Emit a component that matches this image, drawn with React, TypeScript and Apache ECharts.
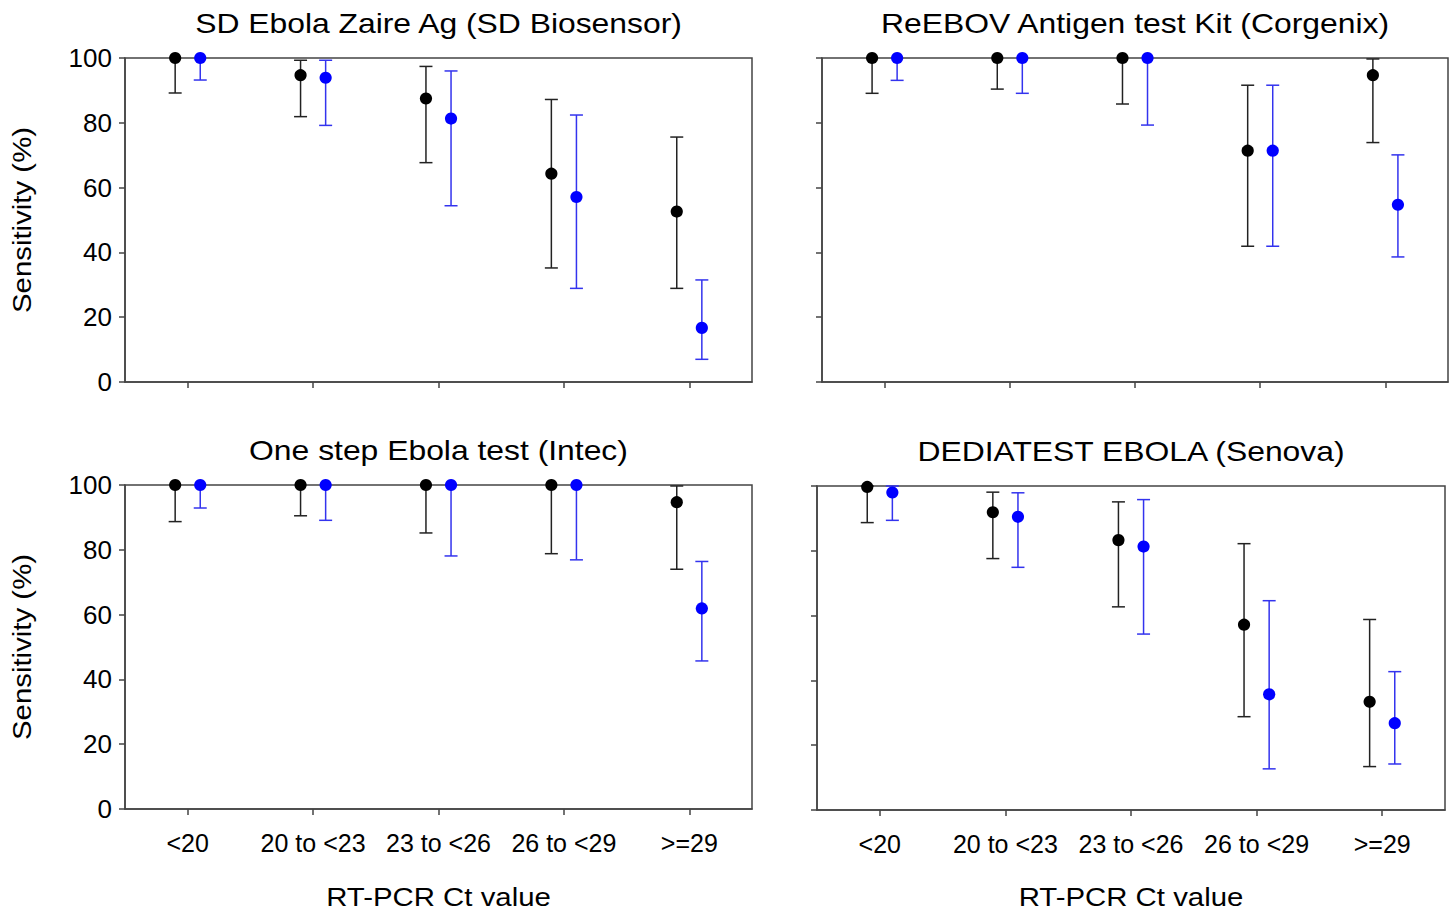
import React, { useEffect, useRef } from 'react';
import * as echarts from 'echarts';

const categories = ['<20', '20 to <23', '23 to <26', '26 to <29', '>=29'];
const yTicks = [0, 20, 40, 60, 80, 100];

const titles = [
  'SD Ebola Zaire Ag (SD Biosensor)',
  'ReEBOV Antigen test Kit (Corgenix)',
  'One step Ebola test (Intec)',
  'DEDIATEST EBOLA (Senova)',
];

// SD Biosensor
const sdBlack = [100, 94.7, 87.5, 64.3, 52.6];
const sdBlackLow = [89.2, 81.9, 67.7, 35.2, 28.9];
const sdBlackHigh = [100, 99.3, 97.4, 87.2, 75.6];
const sdBlue = [100, 93.9, 81.3, 57.1, 16.7];
const sdBlueLow = [93.2, 79.2, 54.4, 28.9, 7.0];
const sdBlueHigh = [100, 99.3, 96.0, 82.4, 31.5];

// Corgenix
const coBlack = [100, 100, 100, 71.4, 94.7];
const coBlackLow = [89.1, 90.4, 85.8, 41.9, 73.9];
const coBlackHigh = [100, 100, 100, 91.6, 99.7];
const coBlue = [100, 100, 100, 71.4, 54.7];
const coBlueLow = [93.1, 89.1, 79.3, 41.9, 38.6];
const coBlueHigh = [100, 100, 100, 91.6, 70.1];

// Intec
const inBlack = [100, 100, 100, 100, 94.7];
const inBlackLow = [88.7, 90.5, 85.2, 78.8, 74.0];
const inBlackHigh = [100, 100, 100, 100, 99.7];
const inBlue = [100, 100, 100, 100, 61.9];
const inBlueLow = [92.9, 89.1, 78.1, 76.9, 45.7];
const inBlueHigh = [100, 100, 100, 100, 76.4];

// Senova
const seBlack = [99.7, 91.9, 83.3, 57.2, 33.4];
const seBlackLow = [88.7, 77.6, 62.7, 28.8, 13.4];
const seBlackHigh = [100, 98.1, 95.1, 82.2, 58.8];
const seBlue = [98.0, 90.5, 81.3, 35.7, 26.8];
const seBlueLow = [89.4, 74.9, 54.3, 12.7, 14.2];
const seBlueHigh = [100, 97.9, 95.8, 64.6, 42.7];

const FONT = 'Liberation Sans, Arial, Helvetica, sans-serif';
const FRAME = '#444444';

const panelData = [
  { black: [sdBlack, sdBlackLow, sdBlackHigh], blue: [sdBlue, sdBlueLow, sdBlueHigh] },
  { black: [coBlack, coBlackLow, coBlackHigh], blue: [coBlue, coBlueLow, coBlueHigh] },
  { black: [inBlack, inBlackLow, inBlackHigh], blue: [inBlue, inBlueLow, inBlueHigh] },
  { black: [seBlack, seBlackLow, seBlackHigh], blue: [seBlue, seBlueLow, seBlueHigh] },
];

const panelLayout = [
  { left: 125, top: 58, width: 627, height: 324, xLabels: false, yLabels: true },
  { left: 822, top: 58, width: 626, height: 324, xLabels: false, yLabels: false },
  { left: 125, top: 485, width: 627, height: 324, xLabels: true, yLabels: true },
  { left: 817, top: 486, width: 628, height: 324, xLabels: true, yLabels: false },
];

const makeRender = (offset: number, dotColor: string, barColor: string) => (params: any, api: any) => {
  const idx = api.value(0);
  const v = api.value(1);
  const lo = api.value(2);
  const hi = api.value(3);
  const c = api.coord([idx, v]);
  const band = api.size([1, 0])[0];
  const x = c[0] + offset * band;
  const yv = c[1];
  const ylo = api.coord([idx, lo])[1];
  const yhi = api.coord([idx, hi])[1];
  const capW = 6.5;
  const ls = { stroke: barColor, lineWidth: 1.5 };
  const children: any[] = [
    { type: 'line', shape: { x1: x, y1: yhi, x2: x, y2: ylo }, style: ls },
    { type: 'line', shape: { x1: x - capW, y1: ylo, x2: x + capW, y2: ylo }, style: ls },
  ];
  if (hi > v) {
    children.push({ type: 'line', shape: { x1: x - capW, y1: yhi, x2: x + capW, y2: yhi }, style: ls });
  }
  children.push({ type: 'circle', shape: { cx: x, cy: yv, r: 6.1 }, style: { fill: dotColor } });
  return { type: 'group', children };
};

const App: React.FC = () => {
  const ref = useRef<HTMLDivElement>(null);
  useEffect(() => {
    if (!ref.current) return;
    const chart = echarts.init(ref.current, undefined, { renderer: 'svg' });
    const grid = panelLayout.map((p) => ({
      left: p.left, top: p.top, width: p.width, height: p.height,
      show: true, borderColor: FRAME, borderWidth: 1.5, backgroundColor: 'transparent',
    }));
    const xAxis = panelLayout.map((p, i) => ({
      type: 'category', gridIndex: i, data: categories, boundaryGap: true,
      axisLine: { show: true, lineStyle: { color: FRAME, width: 1.5 } },
      axisTick: { show: true, alignWithLabel: true, length: 6, inside: false, lineStyle: { color: FRAME, width: 1.5 } },
      axisLabel: { show: p.xLabels, interval: 0, fontSize: 25, margin: 21, color: '#000', fontFamily: FONT },
      splitLine: { show: false },
    }));
    const yAxis = panelLayout.map((p, i) => ({
      type: 'value', gridIndex: i, min: yTicks[0], max: yTicks[yTicks.length - 1], interval: 20,
      axisLine: { show: true, lineStyle: { color: FRAME, width: 1.5 } },
      axisTick: { show: true, length: 6, inside: false, lineStyle: { color: FRAME, width: 1.5 } },
      axisLabel: { show: p.yLabels, fontSize: 26, margin: 13, color: '#000', fontFamily: FONT },
      splitLine: { show: false },
    }));
    const series: any[] = [];
    panelData.forEach((d, i) => {
      const groups: [number[][], number, string, string][] = [
        [d.black, -0.1, '#000000', '#222222'],
        [d.blue, 0.1, '#0000ff', '#3333ee'],
      ];
      groups.forEach(([arr, off, dc, bc]) => {
        series.push({
          type: 'custom', xAxisIndex: i, yAxisIndex: i, clip: false,
          renderItem: makeRender(off, dc, bc),
          encode: { x: 0, y: 1 },
          data: categories.map((_, k) => [k, arr[0][k], arr[1][k], arr[2][k]]),
        });
      });
    });
    const textStyle = (text: string, size: number) => ({
      text, fontSize: size, fontFamily: FONT, fill: '#000', textAlign: 'center', textVerticalAlign: 'middle',
    });
    const graphic: any[] = [];
    panelLayout.forEach((p, i) => {
      graphic.push({
        type: 'text', x: p.left + p.width / 2, y: p.top - 35, scaleX: 1.18,
        style: textStyle(titles[i], 27),
      });
      if (p.yLabels) {
        graphic.push({
          type: 'text', x: 22, y: p.top + p.height / 2, rotation: Math.PI / 2, scaleX: 1.13,
          style: textStyle('Sensitivity (%)', 26),
        });
      }
      if (p.xLabels) {
        graphic.push({
          type: 'text', x: p.left + p.width / 2, y: 897, scaleX: 1.13,
          style: textStyle('RT-PCR Ct value', 26),
        });
      }
    });
    chart.setOption({
      animation: false,
      backgroundColor: '#ffffff',
      grid, xAxis, yAxis, series, graphic,
    });
    return () => chart.dispose();
  }, []);
  return (
    <div
      ref={ref}
      style={{ position: 'fixed', left: 0, top: 0, width: 1453, height: 911, background: '#fff' }}
    />
  );
};

export default App;
